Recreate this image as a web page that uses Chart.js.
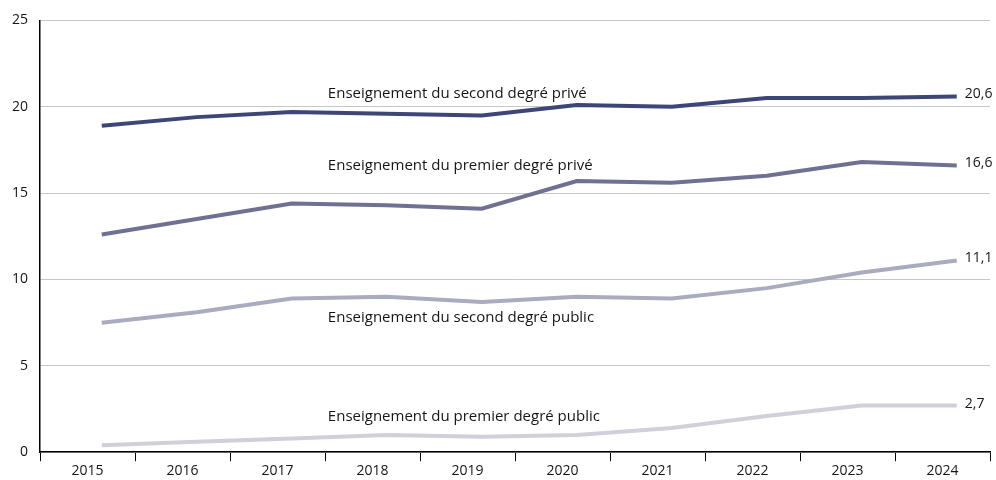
<!DOCTYPE html>
<html>
<head>
<meta charset="utf-8">
<script src="https://cdn.jsdelivr.net/npm/chart.js@4"></script>
<style>
  html, body { margin: 0; padding: 0; background: #fff; }
  #cadre { width: 996px; height: 480px; }
</style>
</head>
<body>
<div id="cadre"><canvas id="chart"></canvas></div>
<script>
// annees et series
let annees = [2015, 2016, 2017, 2018, 2019, 2020, 2021, 2022, 2023, 2024];
let secondPrive = [18.9, 19.4, 19.7, 19.6, 19.5, 20.1, 20.0, 20.5, 20.5, 20.6];
let premierPrive = [12.6, 13.5, 14.4, 14.3, 14.1, 15.7, 15.6, 16.0, 16.8, 16.6];
let secondPublic = [7.5, 8.1, 8.9, 9.0, 8.7, 9.0, 8.9, 9.5, 10.4, 11.1];
let premierPublic = [0.4, 0.6, 0.8, 1.0, 0.9, 1.0, 1.4, 2.1, 2.7, 2.7];
let nomsSeries = [
    'Enseignement du second degré privé',
    'Enseignement du premier degré privé',
    'Enseignement du second degré public',
    'Enseignement du premier degré public'
];
let ticksY = [0, 5, 10, 15, 20, 25];

const police = "'Open Sans', 'Noto Sans', sans-serif";

function points(valeurs) {
    return valeurs.map(function (v, i) { return { x: annees[i], y: v }; });
}

// etiquettes dans le graphique (nom de la serie + derniere valeur)
const etiquettes = {
    id: 'etiquettes',
    afterDatasetsDraw(chart) {
        let ctx = chart.ctx;
        let x2 = chart.scales.x2;
        let y = chart.scales.y;
        ctx.save();
        ctx.font = '15px ' + police;
        ctx.fillStyle = '#161616';
        ctx.textBaseline = 'middle';
        ctx.textAlign = 'left';
        // noms des series
        let posNoms = [20.77, 16.6, 7.8, 2.08];
        nomsSeries.forEach(function (nom, i) {
            ctx.fillText(nom, x2.getPixelForValue(2017.38), y.getPixelForValue(posNoms[i]));
        });
        // dernieres valeurs
        ctx.font = '14px ' + police;
        chart.data.datasets.forEach(function (ds) {
            let dernier = ds.data[ds.data.length - 1];
            let texte = dernier.y.toFixed(1).replace('.', ',');
            ctx.fillText(texte, x2.getPixelForValue(dernier.x) + 8, y.getPixelForValue(dernier.y) - 2);
        });
        ctx.restore();
    }
};

let ctx = document.getElementById('chart');
new Chart(ctx, {
    type: 'line',
    data: {
        labels: annees.map(String),
        datasets: [
            { label: nomsSeries[0], data: points(secondPrive), borderColor: '#3c4677', xAxisID: 'x2' },
            { label: nomsSeries[1], data: points(premierPrive), borderColor: '#6e7191', xAxisID: 'x2' },
            { label: nomsSeries[2], data: points(secondPublic), borderColor: '#a9abbf', xAxisID: 'x2' },
            { label: nomsSeries[3], data: points(premierPublic), borderColor: '#cfd0d9', xAxisID: 'x2' }
        ]
    },
    options: {
        responsive: true,
        maintainAspectRatio: false,
        animation: false,
        layout: { padding: { top: 20, right: 6, left: 0, bottom: 0 } },
        elements: {
            line: { borderWidth: 4, tension: 0, fill: false },
            point: { radius: 0, hoverRadius: 0 }
        },
        plugins: {
            legend: { display: false },
            tooltip: { enabled: false }
        },
        scales: {
            x: {
                type: 'category',
                offset: true,
                grid: { offset: true, drawOnChartArea: false, drawTicks: true, tickLength: 9, color: '#000' },
                border: { color: '#000', width: 1.5 },
                ticks: { color: '#161616', font: { family: police, size: 14 }, padding: 1, maxRotation: 0 }
            },
            x2: {
                type: 'linear',
                display: false,
                min: 2014.35,
                max: 2024.35
            },
            y: {
                min: 0,
                max: 25,
                afterFit(axe) { axe.width = 40; },
                afterBuildTicks(axe) { axe.ticks = ticksY.map(function (v) { return { value: v }; }); },
                grid: { color: '#c6c6c6', drawTicks: false },
                border: { color: '#000', width: 1.5 },
                ticks: { color: '#161616', font: { family: police, size: 14 }, padding: 12 }
            }
        }
    },
    plugins: [etiquettes]
});
</script>
</body>
</html>
